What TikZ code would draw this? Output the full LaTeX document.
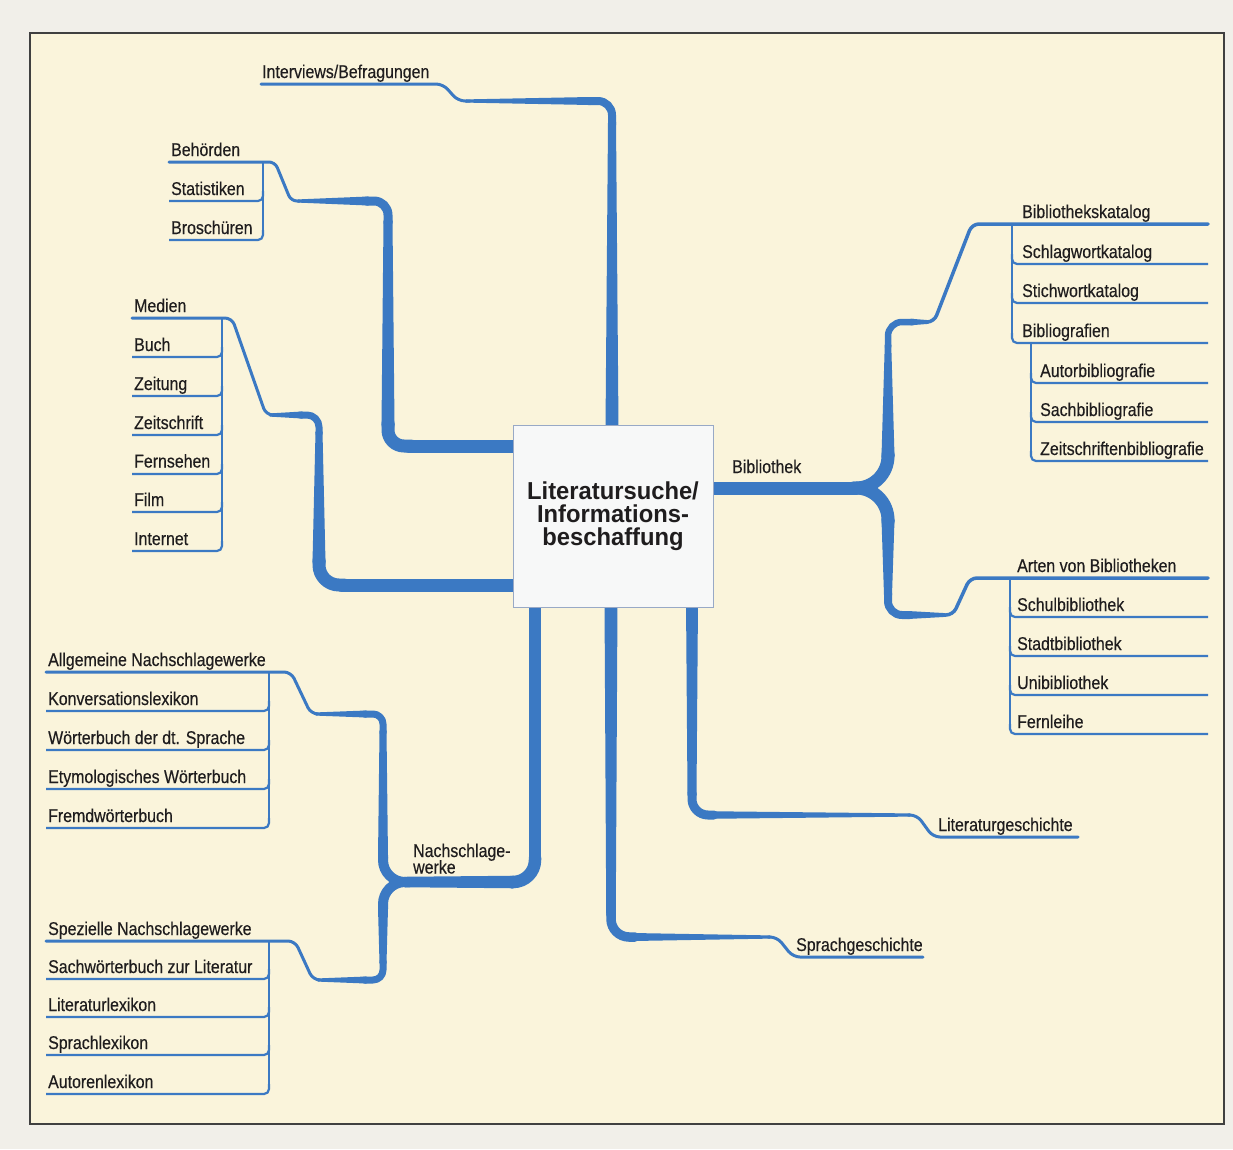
\documentclass[tikz,border=0pt]{standalone}
\usepackage{fontspec}
\setmainfont{Liberation Sans}[FakeStretch=0.86,FakeBold=0.4]
\newfontfamily\mmtitlefont{Liberation Sans}[FakeStretch=0.97]
\definecolor{mmblue}{HTML}{3B79C3}
\definecolor{cream}{HTML}{FAF4DB}
\definecolor{pagebg}{HTML}{F1EFE9}
\definecolor{ink}{HTML}{1F1D1E}
\definecolor{boxedge}{HTML}{98A9C6}
\definecolor{boxfill}{HTML}{F7F8F8}
\newcommand\mmlab{\fontsize{18.5}{16}\selectfont}
\newcommand\mmtitle{\mmtitlefont\fontsize{24.5}{23}\selectfont\bfseries}
% tapered straight stroke as a filled trapezoid: x1,y1,x2,y2,w1,w2
\newcommand\mmtaper[6]{%
  \pgfmathsetmacro\mmL{veclen((#3)-(#1),(#4)-(#2))}%
  \pgfmathsetmacro\mmnx{-((#4)-(#2))/\mmL}%
  \pgfmathsetmacro\mmny{((#3)-(#1))/\mmL}%
  \fill[mmblue] ({#1+(\mmnx)*(#5)/2},{#2+(\mmny)*(#5)/2}) -- ({#3+(\mmnx)*(#6)/2},{#4+(\mmny)*(#6)/2})
     -- ({#3-(\mmnx)*(#6)/2},{#4-(\mmny)*(#6)/2}) -- ({#1-(\mmnx)*(#5)/2},{#2-(\mmny)*(#5)/2}) -- cycle;
  \fill[mmblue] (#1,#2) circle[radius=#5/2];
  \fill[mmblue] (#3,#4) circle[radius=#6/2];
}
\begin{document}
\begin{tikzpicture}[x=1pt,y=-1pt,
  lab/.style={anchor=base west, inner sep=0pt, font=\mmlab, text=ink},
  br/.style={draw=mmblue, line cap=round, line join=round},
  sub/.style={draw=mmblue, line width=2.2pt, rounded corners=5pt},
  brk/.style={draw=mmblue, line width=2.2pt},
]
\useasboundingbox (0,0) rectangle (1233,1149);
\fill[pagebg] (0,0) rectangle (1233,1149);
\draw[fill=cream, draw=black!75, line width=1.3pt] (30,33) rectangle (1224,1124);

% ---------- Interviews
\draw[br, line width=3pt, rounded corners=7pt] (261,84) -- (443,84) -- (458,101) -- (470,101);
\mmtaper{466}{101}{590}{101}{3.2}{8}
\draw[br, line width=8pt, rounded corners=14pt] (588,101) -- (612,101) -- (612,125);
\mmtaper{612}{122}{612}{428}{8}{13}

% ---------- Behoerden
\draw[br, line width=3pt, rounded corners=6pt] (169,162) -- (275,162) -- (291,201) -- (300,201);
\mmtaper{298}{201}{368}{201}{3.2}{9}
\draw[br, line width=9pt, rounded corners=14pt] (366,201) -- (388,201) -- (388,223);
\mmtaper{388}{221}{388}{425}{9}{13}
\draw[br, line width=13pt, rounded corners=16pt] (388,423) -- (388,446) -- (411,446);
\draw[br, line width=13pt] (409,446) -- (518,446);
\draw[brk] (263,162) -- (263,232);
\foreach \uy in {201,240} \draw[sub] (169,\uy) -- (263,\uy) -- (263,\uy-10);

% ---------- Medien
\draw[br, line width=3pt, rounded corners=7pt] (132,318) -- (232,318) -- (266,415) -- (272,415);
\mmtaper{270}{415}{302}{415}{3.2}{7}
\draw[br, line width=7pt, rounded corners=12pt] (300,415) -- (319,415) -- (319,434);
\mmtaper{319}{432}{319}{562}{7}{13}
\draw[br, line width=13pt, rounded corners=20pt] (319,560) -- (319,585) -- (344,585);
\draw[br, line width=13pt] (342,585) -- (518,585);
\draw[brk] (222,318) -- (222,543);
\foreach \uy in {357,396,435,474,512,551} \draw[sub] (132,\uy) -- (222,\uy) -- (222,\uy-10);

% ---------- Nachschlagewerke
\draw[br, line width=3pt, rounded corners=7pt] (46,672) -- (291,672) -- (311,714) -- (318,714);
\mmtaper{316}{714}{366}{714}{3.2}{7}
\draw[br, line width=7pt, rounded corners=10pt] (364,714) -- (383,714) -- (383,733);
\mmtaper{383}{731}{383}{858}{7}{10}
\draw[br, line width=10pt, rounded corners=22pt] (383,855) -- (383,882) -- (410,882);
\draw[br, line width=3pt, rounded corners=7pt] (46,941) -- (295,941) -- (313,980) -- (320,980);
\mmtaper{318}{980}{366}{980}{3.2}{7}
\draw[br, line width=7pt, rounded corners=10pt] (364,980) -- (383,980) -- (383,961);
\mmtaper{383}{963}{383}{908}{7}{10}
\draw[br, line width=10pt, rounded corners=22pt] (383,909) -- (383,882) -- (410,882);
\draw[br, line width=12pt] (535,600) -- (535,860);
\draw[br, line width=12.5pt, rounded corners=22pt] (535,858) -- (535,882) -- (511,882);
\mmtaper{513}{882}{405}{882}{12.5}{10.5}
\draw[brk] (269,672) -- (269,820);
\foreach \uy in {711,750,789,828} \draw[sub] (46,\uy) -- (269,\uy) -- (269,\uy-10);
\draw[brk] (269,941) -- (269,1086);
\foreach \uy in {979,1017,1055,1094} \draw[sub] (46,\uy) -- (269,\uy) -- (269,\uy-10);

% ---------- Sprachgeschichte
\mmtaper{611}{600}{611}{915}{13}{9.5}
\draw[br, line width=9.5pt, rounded corners=18pt] (611,913) -- (611,937) -- (635,937);
\mmtaper{633}{937}{770}{937}{8}{3.2}
\draw[br, line width=3pt, rounded corners=7pt] (768,937) -- (777,937) -- (793,957) -- (923,957);

% ---------- Literaturgeschichte
\mmtaper{692}{600}{692}{795}{12}{9}
\draw[br, line width=9pt, rounded corners=16pt] (692,793) -- (692,815) -- (714,815);
\mmtaper{712}{815}{910}{815}{7.5}{3.2}
\draw[br, line width=3pt, rounded corners=7pt] (908,815) -- (917,815) -- (933,837) -- (1078,837);

% ---------- Bibliothek
\draw[br, line width=13pt] (708,488) -- (856,488);
\draw[br, line width=13pt, rounded corners=32pt] (854,488) -- (888,488) -- (888,454);
\mmtaper{888}{456}{888}{345}{13}{6.5}
\draw[br, line width=6.5pt, rounded corners=14pt] (888,347) -- (888,322) -- (913,322);
\mmtaper{911}{322}{928}{322}{6.5}{3.8}
\draw[br, line width=3.5pt, rounded corners=7pt] (926,322) -- (934,322) -- (972,224) -- (1208,224);
\draw[br, line width=13pt, rounded corners=32pt] (854,488) -- (888,488) -- (888,522);
\mmtaper{888}{520}{888}{595}{13}{8}
\draw[br, line width=8pt, rounded corners=14pt] (888,593) -- (888,615) -- (910,615);
\mmtaper{908}{615}{945}{615}{8}{3.8}
\draw[br, line width=3.5pt, rounded corners=7pt] (943,615) -- (953,615) -- (970,578) -- (1208,578);
\draw[brk] (1012,224) -- (1012,335);
\foreach \uy in {264,303,343} \draw[sub] (1208,\uy) -- (1012,\uy) -- (1012,\uy-10);
\draw[brk] (1031,343) -- (1031,453);
\foreach \uy in {383,422,461} \draw[sub] (1208,\uy) -- (1031,\uy) -- (1031,\uy-10);
\draw[brk] (1010,578) -- (1010,726);
\foreach \uy in {617,656,695,734} \draw[sub] (1208,\uy) -- (1010,\uy) -- (1010,\uy-10);

% ---------- centre box
\node[draw=boxedge, line width=1pt, fill=boxfill, minimum width=200pt, minimum height=182pt,
      inner sep=0pt, align=center, font=\mmtitle, text=ink] (box) at (613,516)
      {Literatursuche/\\Informations-\\beschaffung};

% ---------- labels
\node[lab] (iv) at (262,78) {Interviews/Befragungen};
\node[lab] (beh) at (171,156) {Behörden};
\node[lab] (sta) at (171,195) {Statistiken};
\node[lab] (bro) at (171,234) {Broschüren};
\node[lab] (med) at (134,312) {Medien};
\node[lab] (buch) at (134,351) {Buch};
\node[lab] (zeit) at (134,390) {Zeitung};
\node[lab] (zsch) at (134,429) {Zeitschrift};
\node[lab] (fern) at (134,467.5) {Fernsehen};
\node[lab] (film) at (134,506) {Film};
\node[lab] (inet) at (134,545) {Internet};
\node[lab] (allg) at (48,666) {Allgemeine Nachschlagewerke};
\node[lab] (konv) at (48,705) {Konversationslexikon};
\node[lab] (wbds) at (48,744) {Wörterbuch der dt. Sprache};
\node[lab] (etym) at (48,783) {Etymologisches Wörterbuch};
\node[lab] (frem) at (48,822) {Fremdwörterbuch};
\node[lab] (spez) at (48,935) {Spezielle Nachschlagewerke};
\node[lab] (sawb) at (48,973) {Sachwörterbuch zur Literatur};
\node[lab] (litl) at (48,1011) {Literaturlexikon};
\node[lab] (spll) at (48,1049) {Sprachlexikon};
\node[lab] (autl) at (48,1088) {Autorenlexikon};
\node[lab] (nach1) at (413,857) {Nachschlage-};
\node[lab] (nach2) at (413,873.5) {werke};
\node[lab] (bib) at (732,473) {Bibliothek};
\node[lab] (bkat) at (1022,218) {Bibliothekskatalog};
\node[lab] (skat) at (1022,258) {Schlagwortkatalog};
\node[lab] (stk) at (1022,297) {Stichwortkatalog};
\node[lab] (bgr) at (1022,337) {Bibliografien};
\node[lab] (abg) at (1040,377) {Autorbibliografie};
\node[lab] (sbg) at (1040,416) {Sachbibliografie};
\node[lab] (zbg) at (1040,455) {Zeitschriftenbibliografie};
\node[lab] (arten) at (1017,572) {Arten von Bibliotheken};
\node[lab] (schul) at (1017,611) {Schulbibliothek};
\node[lab] (stadt) at (1017,650) {Stadtbibliothek};
\node[lab] (uni) at (1017,689) {Unibibliothek};
\node[lab] (fl) at (1017,728) {Fernleihe};
\node[lab] (litg) at (938,831) {Literaturgeschichte};
\node[lab] (sprg) at (796,951) {Sprachgeschichte};
\end{tikzpicture}
\end{document}
